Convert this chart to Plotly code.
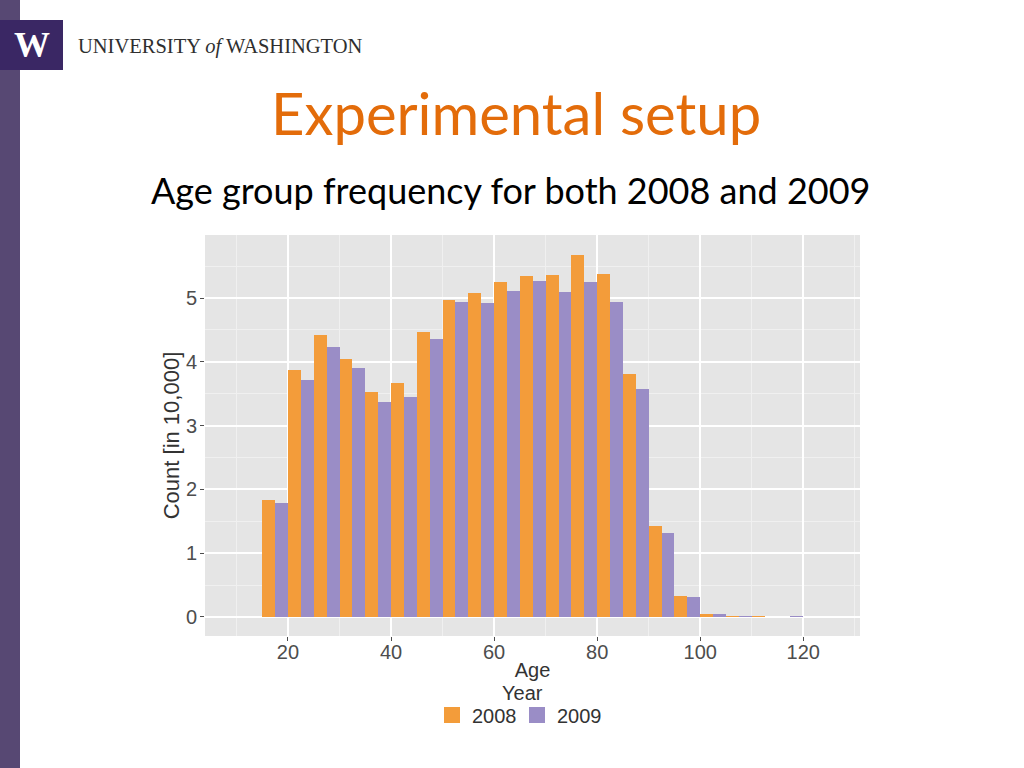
import plotly.graph_objects as go

# ---- data ----
bin_starts = [15, 20, 25, 30, 35, 40, 45, 50, 55, 60, 65, 70, 75, 80, 85, 90, 95, 100, 105, 110, 115]
count_2008 = [1.83, 3.87, 4.42, 4.04, 3.53, 3.67, 4.47, 4.97, 5.08, 5.25, 5.34, 5.36, 5.67, 5.38, 3.81, 1.43, 0.33, 0.04, 0.01, 0.01, 0.0]
count_2009 = [1.79, 3.71, 4.23, 3.90, 3.37, 3.45, 4.36, 4.94, 4.92, 5.11, 5.27, 5.09, 5.25, 4.94, 3.57, 1.32, 0.31, 0.04, 0.01, 0.0, 0.01]
years = ["2008", "2009"]
x_ticks = [20, 40, 60, 80, 100, 120]
y_ticks = [0, 1, 2, 3, 4, 5]

bin_width = 5
centers = [b + bin_width / 2 for b in bin_starts]

ORANGE = "#f39c3a"
PURPLE = "#9a8dc6"
W, H = 1024, 768
SANS = "Liberation Sans, Arial, sans-serif"

fig = go.Figure()
fig.add_trace(go.Bar(x=centers, y=count_2008, marker=dict(color=ORANGE, line=dict(width=0)),
                     name=years[0], showlegend=False))
fig.add_trace(go.Bar(x=centers, y=count_2009, marker=dict(color=PURPLE, line=dict(width=0)),
                     name=years[1], showlegend=False))
# legend proxies
for nm, col in zip(years, [ORANGE, PURPLE]):
    fig.add_trace(go.Scatter(x=[None], y=[None], mode="markers", name=nm,
                             marker=dict(symbol="square", size=20, color=col)))

axis_font = dict(family=SANS, size=20, color="#4d4d4d")
title_font = dict(family=SANS, size=20, color="#333333")

fig.update_layout(
    width=W, height=H,
    margin=dict(l=0, r=0, t=0, b=0),
    paper_bgcolor="white",
    plot_bgcolor="#e5e5e5",
    barmode="group", bargap=0, bargroupgap=0,
    showlegend=True,
    legend=dict(orientation="h", x=517 / W, xanchor="center", y=1 - 715 / H, yanchor="middle",
                font=title_font, bgcolor="rgba(0,0,0,0)", itemwidth=30, tracegroupgap=0,
                entrywidth=40),
    xaxis=dict(domain=[205 / W, 860 / W], range=[3.9, 131.0], tickvals=x_ticks,
               showgrid=True, gridcolor="white", gridwidth=1.6,
               minor=dict(dtick=10, tick0=0, showgrid=True, gridcolor="#f0f0f0", gridwidth=0.8),
               ticks="outside", ticklen=4, tickcolor="#4d4d4d", tickfont=axis_font,
               ticklabelstandoff=-6,
               zeroline=False, showline=False,
               title=dict(text="Age", font=title_font, standoff=0)),
    yaxis=dict(domain=[1 - 636 / H, 1 - 235 / H], range=[-0.30, 5.99], tickvals=y_ticks,
               showgrid=True, gridcolor="white", gridwidth=1.6,
               minor=dict(dtick=0.5, tick0=0, showgrid=True, gridcolor="#f0f0f0", gridwidth=0.8),
               ticks="outside", ticklen=4, tickcolor="#4d4d4d", tickfont=axis_font,
               ticklabelstandoff=-1,
               zeroline=False, showline=False,
               title=dict(text="Count [in 10,000]", font=dict(family=SANS, size=22, color="#333333"), standoff=0)),
)

# legend title
fig.add_annotation(xref="paper", yref="paper", x=522 / W, y=1 - 693 / H, xanchor="center", yanchor="middle",
                   text="Year", showarrow=False, font=title_font)

# slide decorations
fig.add_shape(type="rect", xref="paper", yref="paper", x0=0, x1=20 / W, y0=0, y1=1,
              fillcolor="#574873", line=dict(width=0), layer="above")
fig.add_shape(type="rect", xref="paper", yref="paper", x0=0, x1=63 / W, y0=1 - 70 / H, y1=1 - 20 / H,
              fillcolor="#3a2764", line=dict(width=0), layer="above")
fig.add_annotation(xref="paper", yref="paper", x=32 / W, y=1 - 45 / H, xanchor="center", yanchor="middle",
                   text="<b>W</b>", showarrow=False,
                   font=dict(family="Liberation Serif, DejaVu Serif, serif", size=36, color="white"))
fig.add_annotation(xref="paper", yref="paper", x=76 / W, y=1 - 47 / H, xanchor="left", yanchor="middle",
                   text="UNIVERSITY <i>of</i> WASHINGTON", showarrow=False,
                   font=dict(family="Liberation Serif, DejaVu Serif, serif", size=20.5, color="#2f2f2f"))
fig.add_annotation(xref="paper", yref="paper", x=516 / W, y=1 - 113 / H, xanchor="center", yanchor="middle",
                   text="Experimental setup", showarrow=False,
                   font=dict(family="Lato, Open Sans, sans-serif", size=58, color="#e36c0a"))
fig.add_annotation(xref="paper", yref="paper", x=510 / W, y=1 - 190 / H, xanchor="center", yanchor="middle",
                   text="Age group frequency for both 2008 and 2009", showarrow=False,
                   font=dict(family="Lato, Open Sans, sans-serif", size=36, color="black"))

fig.write_html("out.html", config={"displayModeBar": False},
               post_script="document.body.style.margin='0';document.body.style.padding='0';")
